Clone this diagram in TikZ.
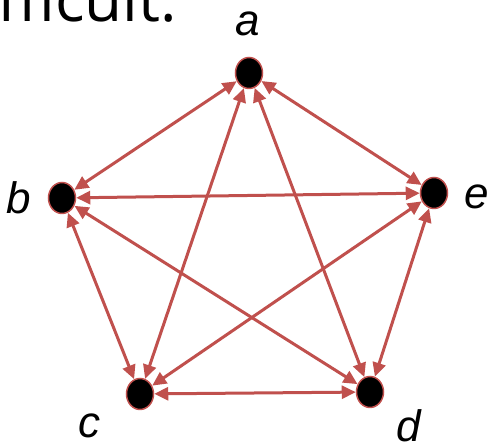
\documentclass[tikz,border=0pt]{standalone}
\usepackage{fontspec}
\setmainfont{Liberation Sans}
\newfontfamily\headfont{Open Sans}
\usetikzlibrary{shapes.geometric,arrows.meta}
\definecolor{edgered}{RGB}{192,80,77}
\begin{document}
\begin{tikzpicture}[x=1pt,y=1pt,
  vert/.style={ellipse,fill=black,draw=edgered,line width=1.5pt,minimum width=27pt,minimum height=31pt,inner sep=0pt},
  lbl/.style={font=\fontsize{44}{44}\selectfont\itshape,anchor=base,inner sep=0pt},
  link/.style={draw=edgered,line width=3pt,{Triangle[length=14pt,width=13pt]}-{Triangle[length=14pt,width=13pt]}}]
\useasboundingbox (0,0) rectangle (491,446);
\clip (0,0) rectangle (491,446);
\node[font=\headfont\fontsize{62}{62}\selectfont,anchor=base east,inner sep=0pt] (head) at (177,424) {difficult.};
\node[vert] (a) at (249,373) {};
\node[vert] (b) at (62,248) {};
\node[vert] (e) at (434,253) {};
\node[vert] (c) at (140,52) {};
\node[vert] (d) at (370,54) {};
\node[lbl] (la) at (248,410) {a};
\node[lbl] (lb) at (19,232) {b};
\node[lbl] (le) at (477,237) {e};
\node[lbl] (lc) at (89,8) {c};
\node[lbl] (ld) at (409,4) {d};
\draw[link] (a) -- (b);
\draw[link] (a) -- (e);
\draw[link] (a) -- (c);
\draw[link] (a) -- (d);
\draw[link] (b) -- (e);
\draw[link] (b) -- (c);
\draw[link] (b) -- (d);
\draw[link] (c) -- (d);
\draw[link] (c) -- (e);
\draw[link] (d) -- (e);
\end{tikzpicture}
\end{document}
